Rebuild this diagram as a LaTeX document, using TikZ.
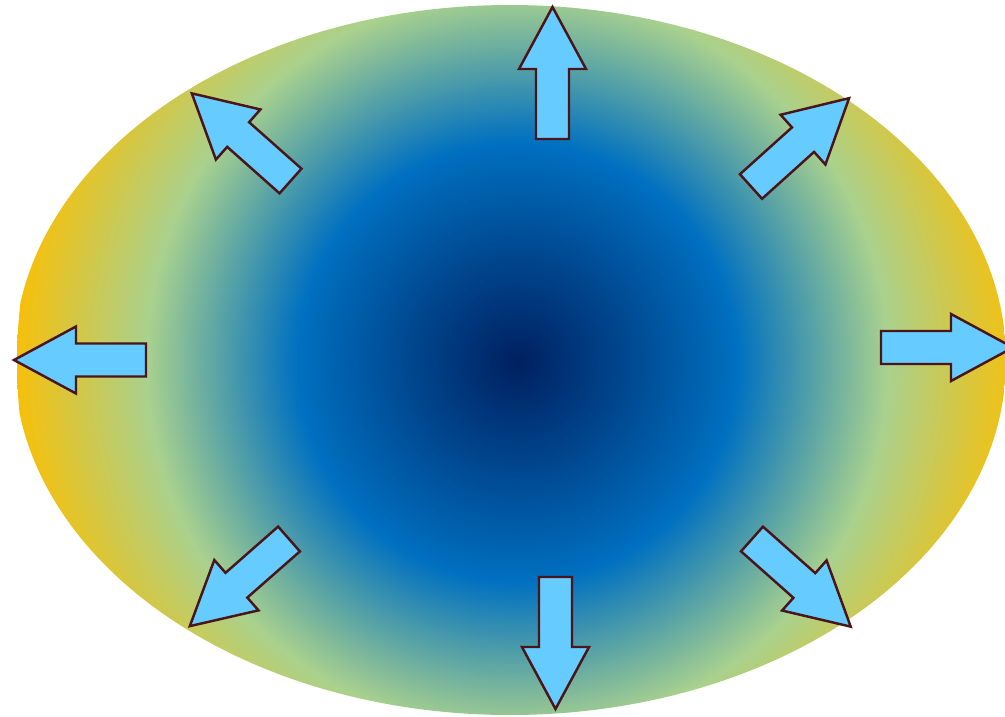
\documentclass[tikz,border=0pt]{standalone}
\usepackage{tikz}
\definecolor{navyc}{HTML}{002060}
\definecolor{bluec}{HTML}{0070C0}
\definecolor{greenc}{HTML}{A9D18E}
\definecolor{yellowc}{HTML}{F5C00C}
\definecolor{arrowfill}{HTML}{66CCFF}
\definecolor{arrowrim}{HTML}{4A1418}
\pgfdeclareradialshading{glow}{\pgfpoint{0bp}{0bp}}{color(0bp)=(navyc); color(11bp)=(bluec); color(18.5bp)=(greenc); color(25bp)=(yellowc); color(50bp)=(yellowc)}

\begin{document}
\begin{tikzpicture}[x=0.02cm, y=-0.02cm,
  outarrow/.style={draw=arrowrim, fill=arrowfill, line width=1.4pt, line join=miter}]
\useasboundingbox (0,0) rectangle (1005,717);
% ---------------- shaded ellipse
\begin{scope}
  \clip (510,360) ellipse [x radius=496, y radius=355];
  \shade[shading=glow] (517,362) circle [radius=500];
\end{scope}
% ---------------- outward arrows (tail x / tail y / angle)
\foreach \tx/\ty/\ang in {552.5/139/90, 146/360/180, 881/347.5/0, 555.5/577/-90,
    290.5/181/138.4, 751/186.5/42, 289/539/221.3, 752/539/-41.6}
  \draw[outarrow, shift={(\tx,\ty)}, rotate=\ang]
    (0,-16.5) -- (70,-16.5) -- (70,-33.5) -- (132,0) -- (70,33.5) -- (70,16.5) -- (0,16.5) -- cycle;
\end{tikzpicture}
\end{document}
